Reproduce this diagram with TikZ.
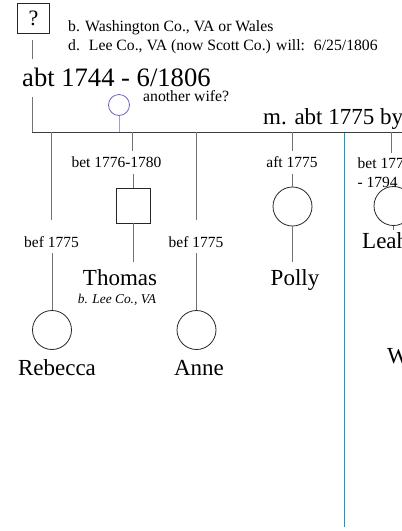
\documentclass[tikz,border=0pt]{standalone}
\usepackage{fontspec}
\setmainfont{Liberation Serif}
\usetikzlibrary{positioning}
\definecolor{linegray}{RGB}{115,115,115}
\definecolor{bargray}{RGB}{60,60,60}
\definecolor{wifeblue}{RGB}{112,100,200}
\definecolor{wifeline}{RGB}{165,155,215}
\definecolor{splitblue}{RGB}{0,160,220}
\newcommand{\bigfont}{\fontsize{26.6}{30}\selectfont}
\newcommand{\namefont}{\fontsize{23}{26}\selectfont}
\newcommand{\datefont}{\fontsize{15.5}{19}\selectfont}
\newcommand{\notefont}{\fontsize{15.7}{19}\selectfont}

\begin{document}
\begin{tikzpicture}[x=1pt, y=-1pt,
  link/.style={draw=linegray, line width=0.8pt},
  bar/.style={draw=bargray, line width=1pt},
  female/.style={circle, draw=black!85, line width=0.8pt, minimum size=39pt, inner sep=0pt},
  male/.style={rectangle, draw=black!85, line width=0.8pt, minimum width=34pt, minimum height=35pt, inner sep=0pt},
  datelabel/.style={font=\datefont, inner sep=0pt, minimum height=22pt, anchor=base},
  personname/.style={font=\namefont, inner sep=0pt, anchor=base},
  note/.style={font=\notefont, inner sep=0pt, anchor=base west}]
  \useasboundingbox (0,0) rectangle (402,531);
  \clip (0,0) rectangle (402,531);

  \node[draw=black!85, line width=0.8pt, minimum width=32pt, minimum height=30pt, inner sep=0pt, font=\fontsize{22}{24}\selectfont] (qbox) at (33.5,18.3) {?};
  \node[note] (born) at (68,31.7) {b. Washington Co., VA or Wales};
  \node[note] (died) at (68,50) {d.\hspace{9pt}Lee Co., VA (now Scott Co.) will:\hspace{9pt}6/25/1806};
  \node[font=\bigfont, inner sep=0pt, anchor=base west] (dates) at (22,86) {abt 1744 - 6/1806};
  \coordinate (ft) at (32,132);
  \coordinate (barend) at (410,132);
  \draw[link, shorten <=6.7pt, shorten >=8pt] (qbox.south -| ft) -- (dates.north -| ft);
  \draw[link, shorten <=10.5pt] (dates.south -| ft) -- (ft);
  \draw[bar] (ft) -- (barend);

  \node[circle, draw=wifeblue, line width=0.8pt, minimum size=21pt, inner sep=0pt] (wife) at (119,105) {};
  \node[note] (wifenote) at (143,101.7) {another wife?};
  \draw[draw=wifeline, line width=0.8pt] (wife) -- (wife |- ft);
  \node[font=\namefont, inner sep=0pt, anchor=base west] (marr) at (263,124) {m. abt 1775 by};

  \coordinate (rb0) at (51.5,132);
  \node[datelabel] (rblab) at (51.5,247.3) {bef 1775};
  \node[female] (rb) at (52,330) {};
  \node[personname] (rbname) at (57,375) {Rebecca};
  \draw[link, shorten >=11pt] (rb0) -- (rb0 |- rblab.north);
  \draw[link] (rb.north |- rblab.south) -- (rb.north);

  \coordinate (th0) at (132,132);
  \node[datelabel] (thlab) at (116.5,167.7) {bet 1776-1780};
  \node[male] (th) at (133,205.5) {};
  \node[personname] (thname) at (120,285) {Thomas};
  \node[font=\itshape\fontsize{13.4}{15}\selectfont, inner sep=0pt, anchor=base] (thnote) at (117,303) {b. Lee Co., VA};
  \draw[link] (th0) -- (th0 |- thlab.north);
  \draw[link] (th.north |- thlab.south) -- (th.north);
  \draw[link, shorten >=7pt] (th.south) -- (th.south |- thname.north);

  \coordinate (an0) at (196,132);
  \node[datelabel] (anlab) at (196,247.3) {bef 1775};
  \node[female] (an) at (196.5,330) {};
  \node[personname] (anname) at (199,375) {Anne};
  \draw[link, shorten >=11pt] (an0) -- (an0 |- anlab.north);
  \draw[link] (an.north |- anlab.south) -- (an.north);

  \coordinate (po0) at (292,132);
  \node[datelabel] (polab) at (292,167.7) {aft 1775};
  \node[female] (po) at (292.5,206.5) {};
  \node[personname] (poname) at (295,285) {Polly};
  \draw[link] (po0) -- (po0 |- polab.north);
  \draw[link] (po.north |- polab.south) -- (po.north);
  \draw[link, shorten >=7pt] (po.south) -- (po.south |- poname.north);

  \coordinate (bl0) at (344,133);
  \coordinate (bl1) at (344,527);
  \draw[draw=splitblue, line width=0.9pt] (bl0) -- (bl1);

  \coordinate (le0) at (391.7,132);
  \node[font=\datefont, inner sep=0pt, align=left, anchor=north west] (lelab) at (357.5,157.1) {bet 177\\- 1794};
  \node[female] (le) at (393.5,206) {};
  \node[personname, anchor=base west] (lename) at (362,248) {Leah};
  \node[personname, anchor=base west] (wname) at (387,363) {W};
  \draw[link, shorten >=4pt] (le0) -- (le0 |- lelab.north);
  \draw[link, shorten >=2pt] (le.south) -- (le.south |- lename.north);
\end{tikzpicture}
\end{document}
